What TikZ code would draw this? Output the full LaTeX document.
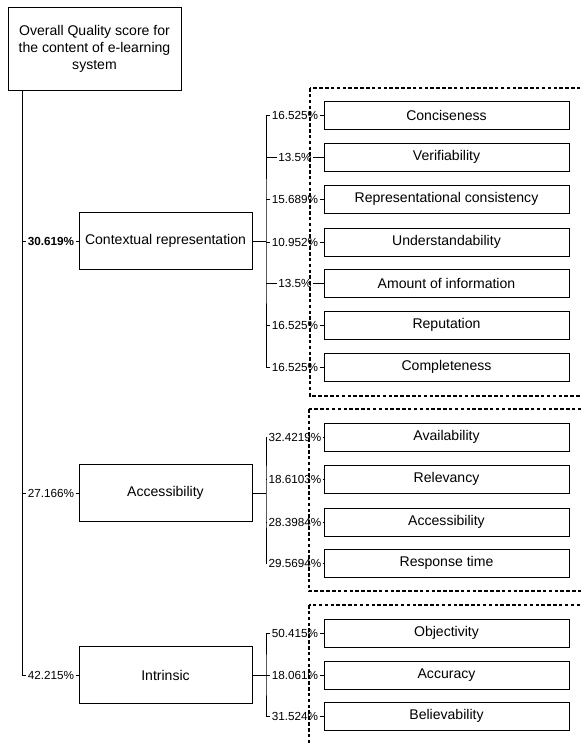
\documentclass[tikz,border=0pt]{standalone}
\usepackage{fontspec}
\setmainfont{Liberation Sans}
\begin{document}
\begin{tikzpicture}[x=0.03cm,y=-0.03cm,line width=0.6pt,
        every node/.style={font=\fontsize{12}{14.5}\selectfont},
        pct/.style={font=\fontsize{10}{12}\selectfont,inner sep=1pt},
        groupbox/.style={draw,minimum width=5.19cm,minimum height=1.71cm},
        itembox/.style={draw,minimum width=7.35cm,minimum height=0.84cm},
        groupframe/.style={line width=1.2pt,dash pattern=on 3pt off 2pt}]
    \clip (0,0) rectangle (581,744);
    \node[draw,minimum width=5.19cm,minimum height=2.49cm,align=center] (overall) at (94.5,48.5)
        {Overall Quality score for\\the content of e-learning\\system};
    \coordinate (trunk) at (22,0);

    \node[groupbox] (ctx) at (165.5,241) {Contextual representation};
    \node[groupbox] (acc) at (165.5,493) {Accessibility};
    \node[groupbox] (intr) at (165.5,675) {Intrinsic};
    \node[pct,font=\fontsize{10}{12}\selectfont\bfseries] (pctx) at (51,241) {30.619\%};
    \node[pct] (pacc) at (51,493) {27.166\%};
    \node[pct] (pintr) at (51,675) {42.215\%};
    \draw (overall.south -| trunk) |- (pintr) -- (intr);
    \draw (trunk |- pctx) -- (pctx) -- (ctx);
    \draw (trunk |- pacc) -- (pacc) -- (acc);

    \coordinate (ctxbr) at (266,241);
    \coordinate (accbr) at (266,493);
    \coordinate (intrbr) at (266,675);
    \draw (ctx) -- (ctxbr);
    \draw (acc) -- (accbr);
    \draw (intr) -- (intrbr);

    \foreach \name/\txt/\val/\y in {cns/Conciseness/16.525/115,
            ver/Verifiability/13.5/157,
            rep/Representational consistency/15.689/199,
            und/Understandability/10.952/242,
            amt/Amount of information/13.5/283,
            rpt/Reputation/16.525/325,
            cmp/Completeness/16.525/367}{
        \node[itembox] (\name) at (446.5,\y) {\txt};
        \node[pct] (p\name) at (295,\y) {\val\%};
        \draw (ctxbr |- p\name) -- (p\name) -- (\name);
    }
    \draw (pcns) -| (ctxbr) |- (pcmp);

    \foreach \name/\txt/\val/\y in {avl/Availability/32.4219/437,
            rel/Relevancy/18.6103/479,
            accs/Accessibility/28.3984/522,
            rsp/Response time/29.5694/563}{
        \node[itembox] (\name) at (446.5,\y) {\txt};
        \node[pct] (p\name) at (295,\y) {\val\%};
        \draw (accbr |- p\name) -- (p\name) -- (\name);
    }
    \draw (pavl) -| (accbr) |- (prsp);

    \foreach \name/\txt/\val/\y in {obj/Objectivity/50.415/633,
            acy/Accuracy/18.061/675,
            blv/Believability/31.524/716}{
        \node[itembox] (\name) at (446.5,\y) {\txt};
        \node[pct] (p\name) at (295,\y) {\val\%};
        \draw (intrbr |- p\name) -- (p\name) -- (\name);
    }
    \draw (pobj) -| (intrbr) |- (pblv);

    \draw[groupframe] (310,88) rectangle (600,396);
    \draw[groupframe] (309,409) rectangle (600,591);
    \draw[groupframe] (309,605) rectangle (600,760);
\end{tikzpicture}
\end{document}
